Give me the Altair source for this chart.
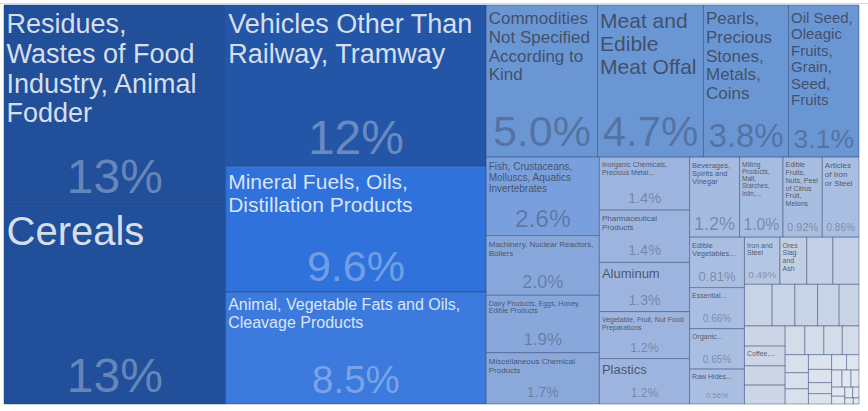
import altair as alt
import pandas as pd

# ---------------- data ----------------
categories = [
    "Residues, Wastes of Food Industry, Animal Fodder",
    "Cereals",
    "Vehicles Other Than Railway, Tramway",
    "Mineral Fuels, Oils, Distillation Products",
    "Animal, Vegetable Fats and Oils, Cleavage Products",
    "Commodities Not Specified According to Kind",
    "Meat and Edible Meat Offal",
    "Pearls, Precious Stones, Metals, Coins",
    "Oil Seed, Oleagic Fruits, Grain, Seed, Fruits",
    "Fish, Crustaceans, Molluscs, Aquatics Invertebrates",
    "Machinery, Nuclear Reactors, Boilers",
    "Dairy Products, Eggs, Honey, Edible Products",
    "Miscellaneous Chemical Products",
    "Inorganic Chemicals, Precious Metal...",
    "Pharmaceutical Products",
    "Aluminum",
    "Vegetable, Fruit, Nut Food Preparations",
    "Plastics",
    "Beverages, Spirits and Vinegar",
    "Milling Products, Malt, Starches, Inlin,...",
    "Edible Fruits, Nuts, Peel of Citrus Fruit, Melons",
    "Articles of Iron or Steel",
    "Edible Vegetables...",
    "Essential...",
    "Organic...",
    "Raw Hides...",
    "Iron and Steel",
    "Ores Slag and Ash",
    "Other 1", "Other 2",
    "Other 3", "Other 4", "Other 5", "Other 6", "Other 7",
    "Other 8", "Coffee,...", "Other 9", "Other 10",
    "Other 11", "Other 12", "Other 13", "Other 14",
    "Other 15", "Other 16", "Other 17",
    "Other 18", "Other 19", "Other 20", "Other 21",
    "Other 22", "Other 23", "Other 24",
    "Other 25", "Other 26", "Other 27", "Other 28",
    "Other 29", "Other 30", "Other 31", "Other 32",
]

shares = [
    13.0, 12.9,
    12.3, 9.6, 8.54,
    4.96, 4.72, 3.79, 3.14,
    2.6, 1.98, 1.9, 1.7,
    1.4, 1.38, 1.3, 1.24, 1.2,
    1.17, 1.02, 0.92, 0.86,
    0.81, 0.66, 0.65, 0.56,
    0.49, 0.37, 0.36, 0.36,
    0.337, 0.278, 0.276, 0.264, 0.242,
    0.240, 0.235, 0.23, 0.225,
    0.165, 0.16, 0.155, 0.14,
    0.123, 0.11, 0.103,
    0.1, 0.09, 0.075, 0.07,
    0.067, 0.056, 0.052,
    0.045, 0.04, 0.035, 0.03, 0.025, 0.02, 0.015, 0.01,
]

# categories whose share is printed
pct_shown = categories[:27]
# categories whose name is printed
title_shown = categories[:28] + ["Coffee,..."]

# ---------------- styles ----------------
palette = (
    ["#214f9a", "#214f9a", "#2456a8", "#2f72dc", "#3c7bdd"]
    + ["#6b96d4"] * 4
    + ["#79a0dc", "#87a7db", "#88a8db", "#8aa9da"]
    + ["#9db5de"] * 5
    + ["#a5bbe0", "#a6bce0", "#a8bde0", "#a9bee1"]
    + ["#a9bee1"] * 4
    + ["#b5c6e3", "#c1cee4", "#c3cfe4", "#c4d0e5"]
    + ["#c8d3e6"] * 5
    + ["#ccd6e7"] * 4
    + ["#d4dcea"] * 4
    + ["#d9e0ec"] * 3
    + ["#dde3ed"] * 4
    + ["#e0e6ef"] * 3
    + ["#e3e8f0"] * 8
)

title_size = [27, 40, 27, 21, 16, 17, 21, 17, 15, 10, 8, 7, 8, 7, 8, 13, 7, 13,
              7.5, 6.5, 7, 8, 7.5, 7, 7, 7, 7, 7, 7]
pct_size = [48, 48, 48, 43, 38.5, 43, 42, 33, 26.5, 24.5, 18, 17, 14, 14.5, 14.5,
            14, 12.5, 12, 18, 15.7, 11, 10, 13, 10, 10, 8, 9.8]

W, H = 855, 399


# ---------------- squarified treemap (d3 algorithm) ----------------
def squarify(vals, x0, y0, x1, y1, ratio=(1 + 5 ** 0.5) / 2):
    n = len(vals)
    out = [None] * n
    value = float(sum(vals))
    i0 = i1 = 0
    while i0 < n:
        dx, dy = x1 - x0, y1 - y0
        sum_v = vals[i1]
        i1 += 1
        min_v = max_v = sum_v
        alpha = max(dy / dx, dx / dy) / (value * ratio)
        beta = sum_v * sum_v * alpha
        min_ratio = max(max_v / beta, beta / min_v)
        while i1 < n:
            nv = vals[i1]
            sum_v += nv
            min_v = min(min_v, nv)
            max_v = max(max_v, nv)
            beta = sum_v * sum_v * alpha
            new_ratio = max(max_v / beta, beta / min_v)
            if new_ratio > min_ratio:
                sum_v -= nv
                break
            min_ratio = new_ratio
            i1 += 1
        if dx < dy:
            ny = y0 + dy * sum_v / value
            k = (x1 - x0) / sum_v
            xx = x0
            for i in range(i0, i1):
                out[i] = (xx, y0, xx + vals[i] * k, ny)
                xx += vals[i] * k
            y0 = ny
        else:
            nx = x0 + dx * sum_v / value
            k = (y1 - y0) / sum_v
            yy = y0
            for i in range(i0, i1):
                out[i] = (x0, yy, nx, yy + vals[i] * k)
                yy += vals[i] * k
            x0 = nx
        value -= sum_v
        i0 = i1
    return out


# ---------------- text helpers ----------------
CW = {' ': 278, ',': 278, '.': 278, '%': 889, '-': 333}
CW.update({c: 556 for c in '0123456789'})
CW.update(dict(A=667, B=667, C=722, D=722, E=667, F=611, G=778, H=722, I=278, J=500,
               K=667, L=556, M=833, N=722, O=778, P=667, Q=778, R=722, S=667, T=611,
               U=722, V=667, W=944, X=667, Y=667, Z=611))
CW.update(dict(a=556, b=556, c=500, d=556, e=556, f=278, g=556, h=556, i=222, j=222,
               k=500, l=222, m=833, n=556, o=556, p=556, q=556, r=333, s=500, t=278,
               u=556, v=500, w=722, x=500, y=500, z=500))


def text_w(s, fs):
    return sum(CW.get(c, 556) for c in s) * fs / 1000.0


def wrap(text, fs, avail):
    lines, cur = [], ""
    for w in text.split(" "):
        t = w if not cur else cur + " " + w
        if not cur or text_w(t, fs) <= avail:
            cur = t
        else:
            lines.append(cur)
            cur = w
    lines.append(cur)
    return lines


def fmt(v):
    s = "%#.2g" % v
    return s.rstrip(".") + "%"


def lum(hexcol):
    r, g, b = (int(hexcol[i:i + 2], 16) for i in (1, 3, 5))
    return (0.2126 * r + 0.7152 * g + 0.0722 * b) / 255.0


rects = squarify(shares, 0.0, 0.0, float(W), float(H))
rect_rows, title_rows, pct_rows = [], [], []
for name, v, col, (x0, y0, x1, y1) in zip(categories, shares, palette, rects):
    rect_rows.append(dict(name=name, x0=x0, x1=x1, y0=y0, y1=y1))
    dark = lum(col) < 0.5
    tcol = "rgba(255,255,255,0.82)" if dark else "rgba(55,64,82,0.82)"
    pcol = "rgba(255,255,255,0.33)" if dark else "rgba(55,66,90,0.42)"
    if name in title_shown:
        fs = title_size[title_shown.index(name)]
        for i, ln in enumerate(wrap(name, fs, x1 - x0 - 5)):
            title_rows.append(dict(text=ln, x=x0 + 2.5,
                                   y=y0 + 4 + 0.9 * fs + i * 1.1 * fs, fs=fs, c=tcol))
    if name in pct_shown:
        fs = pct_size[pct_shown.index(name)]
        pct_rows.append(dict(text=fmt(v), x=(x0 + x1) / 2,
                             y=y1 - (0.15 * fs + 5), fs=fs, c=pcol))

df_rect = pd.DataFrame(rect_rows)
df_title = pd.DataFrame(title_rows)
df_pct = pd.DataFrame(pct_rows)

xs = alt.Scale(domain=[0, W], nice=False, zero=False)
ys = alt.Scale(domain=[0, H], nice=False, zero=False, reverse=True)

cells = alt.Chart(df_rect).mark_rect(
    stroke="#1f3a6b", strokeOpacity=0.42, strokeWidth=1
).encode(
    x=alt.X("x0:Q", scale=xs, axis=None),
    x2="x1:Q",
    y=alt.Y("y0:Q", scale=ys, axis=None),
    y2="y1:Q",
    color=alt.Color("name:N", scale=alt.Scale(domain=categories, range=palette), legend=None),
)

titles = alt.Chart(df_title).mark_text(
    align="left", baseline="alphabetic", font="Liberation Sans"
).encode(
    x=alt.X("x:Q", scale=xs, axis=None),
    y=alt.Y("y:Q", scale=ys, axis=None),
    text="text:N",
    size=alt.Size("fs:Q", scale=None),
    color=alt.Color("c:N", scale=None),
)

pcts = alt.Chart(df_pct).mark_text(
    align="center", baseline="alphabetic", font="Liberation Sans"
).encode(
    x=alt.X("x:Q", scale=xs, axis=None),
    y=alt.Y("y:Q", scale=ys, axis=None),
    text="text:N",
    size=alt.Size("fs:Q", scale=None),
    color=alt.Color("c:N", scale=None),
)

topline = alt.Chart(pd.DataFrame({"k": [0]})).mark_rule(color="#d9d9d9", strokeWidth=1).encode(
    x=alt.value(-4), x2=alt.value(864), y=alt.value(-1.5)
)

chart = alt.layer(cells, titles, pcts, topline).resolve_scale(
    color="independent", size="independent"
).properties(
    width=W, height=H,
    padding={"left": 4, "top": 5, "right": 9, "bottom": 7},
    autosize=alt.AutoSizeParams(type="none"),
    background="white",
).configure_view(stroke=None)

chart.save("out.html", embed_options={"renderer": "svg", "actions": False})
